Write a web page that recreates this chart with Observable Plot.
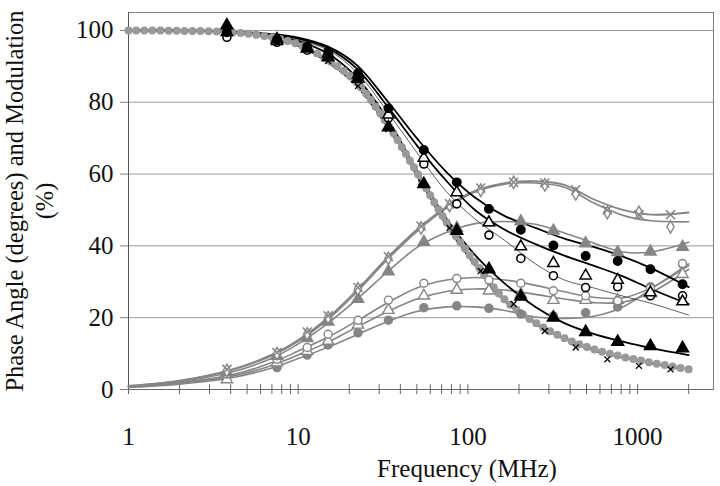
<!DOCTYPE html>
<html><head><meta charset="utf-8">
<script src="https://cdn.jsdelivr.net/npm/d3@7"></script>
<script src="https://cdn.jsdelivr.net/npm/@observablehq/plot@0.6"></script>
<style>body{margin:0;background:#fff}</style>
</head><body><div id="chart"></div>
<script>
// ---- Data ----
const xTickLabels = [1, 10, 100, 1000];
const xAllTicks = [1,2,3,4,5,6,7,8,9,10,20,30,40,50,60,70,80,90,100,200,300,400,500,600,700,800,900,1000,2000];
const yTicks = [0, 20, 40, 60, 80, 100];

// measured frequencies (MHz)
const measFreq = [3.8, 7.5, 11.3, 15, 22.5, 34, 55, 86, 133, 205, 319, 494, 763, 1190, 1840];
const xSerFreq = [3.8, 7.5, 11.3, 15, 22.5, 34, 53, 78, 119, 186, 284, 432, 663, 1018, 1563];

// modulation (%) measured, black markers
const modTriFilled    = [101.4, 97.5, 95, 92.5, 86.5, 73, 57.2, 44.2, 33.5, 25.9, 20, 16, 13.3, 12.1, 11.5];
const modCircleFilled = [99.5, 97.5, 95.5, 94, 88, 78.3, 66.7, 57.7, 50.3, 44.5, 40.1, 37.2, 35.8, 33.5, 29.3];
const modTriOpen      = [99.5, 97, 95, 93.5, 87.5, 76.5, 64.5, 54.9, 46.5, 39.8, 35.2, 31.7, 30.5, 27, 24.5];
const modCircleOpen   = [98.1, 96.7, 94.5, 93, 87, 75.6, 62.8, 51.7, 43, 36.5, 31.7, 28.4, 28.6, 26.1, 26.1];
const modX            = [99.7, 97.5, 94.5, 91.5, 84.5, 72.5, 57.7, 45, 33, 23.8, 16.3, 11.7, 8.4, 6.6, 5.6];

// phase angle (degrees) measured, gray markers
const phTriFilled    = [4.8, 9.3, 14.3, 18.9, 25.2, 32.9, 41.1, 45, 46.5, 46.8, 44.2, 40.7, 38.2, 38.4, 39.7];
const phCircleOpen   = [4.3, 8.4, 11.7, 15.4, 19.3, 24.9, 29.6, 30.9, 30.5, 29.6, 27.5, 26.1, 24.7, 28.2, 35.1];
const phTriOpen      = [2.8, 7.5, 10.7, 13.5, 18, 22.1, 26.1, 27.7, 27.5, 26.5, 24.9, 24.9, 24.9, 26.7, 32.1];
const phCircleFilled = [3.8, 6.1, 9.6, 12.4, 15.8, 19.3, 22.8, 23.3, 22.6, 21, 20.5, 21.4, 23, 28.6, 34.9];
const phX            = [5.6, 10.3, 16, 20.5, 28.4, 37, 45.5, 51.7, 56.1, 57.7, 57.5, 55.6, 50, 48.7, 48.7];
const phDiamond      = [5.3, 10, 15.5, 20, 28, 36.5, 45, 51.2, 55.5, 57.7, 57, 54.5, 49.3, 49.3, 45.3];

// fitted curves
const fitFreq = [1, 2, 4, 7, 10, 15, 22, 34, 50, 75, 110, 165, 250, 370, 550, 820, 1200, 2000];
const fitModTriFilled    = [100, 100, 99.5, 98.5, 97, 93.5, 87, 75, 61, 47.5, 37.5, 29.5, 23, 18.5, 15.5, 13.3, 11.5, 9.6];
const fitModCircleFilled = [100, 100, 99.7, 99, 98, 95.5, 90.5, 80, 70, 60.5, 53.5, 48.3, 45, 42, 39.7, 37, 33.8, 28.5];
const fitModTriOpen      = [100, 100, 99.6, 98.8, 97.7, 95, 89.5, 78.5, 68, 58, 50, 44.5, 40.5, 37.3, 34.5, 31.5, 28, 23.8];
const fitModCircleOpen   = [100, 100, 99.5, 98.5, 97.3, 94.5, 88.5, 77, 66, 55, 47.5, 41.5, 35, 30.5, 28.3, 26, 24, 20.7];
const fitModX            = [100, 99.9, 99.4, 97.8, 95.6, 91, 84.5, 72.5, 59.5, 45.5, 34.5, 24.5, 18.2, 14, 10.8, 8.8, 7.2, 5.4];
const fitGrayDots        = [100, 99.9, 99.5, 98.1, 96.1, 91.8, 85.6, 73.5, 60.5, 46.5, 35.5, 25, 18.6, 14.3, 11.2, 9.1, 7.5, 5.6];
const fitPhX             = [1, 2.5, 5.5, 9.7, 13.8, 20, 27.5, 37, 44.5, 51, 55.3, 57.5, 58, 57, 53, 50, 48.7, 49.3];
const fitPhDiamond       = [1, 2.4, 5.3, 9.4, 13.4, 19.5, 27, 36.5, 44, 50.5, 55, 57.2, 57.5, 56.3, 52, 48.5, 47, 46.7];
const fitPhTriFilled     = [0.8, 2.2, 4.8, 8.7, 12.7, 18.5, 25, 33, 39.5, 43.8, 46.2, 46.8, 46, 43.6, 40.8, 38.3, 38.3, 41];
const fitPhCircleOpen    = [0.8, 1.9, 4, 7.5, 10.7, 14.6, 19, 24.3, 28.3, 30.5, 31.2, 30.5, 29, 27.2, 25.7, 25.5, 28.3, 34.5];
const fitPhTriOpen       = [0.7, 1.7, 3.6, 6.7, 9.6, 13.2, 17.3, 21.8, 25.2, 27.3, 28, 27.7, 26.5, 25.2, 24.2, 24.3, 27, 33.5];
const fitPhCircleFilled  = [0.6, 1.5, 3.2, 6, 8.6, 11.8, 15.2, 19, 21.7, 23, 23, 22, 20.2, 19.8, 20.4, 23, 28, 35];

// ---- helpers ----
const rows = (f, v) => f.map((x, i) => ({f: x, v: v[i]}));
const serif = "'Liberation Serif', 'Times New Roman', serif";
const GRAY = "#858585";
const curve = "catmull-rom";
const fitLine = (vals, opts) => Plot.line(rows(fitFreq, vals), {x: "f", y: "v", curve, ...opts});
const dots = (freqs, vals, opts) => Plot.dot(rows(freqs, vals), {x: "f", y: "v", ...opts});

const chart = Plot.plot({
  width: 720, height: 486,
  marginLeft: 128, marginRight: 7, marginTop: 12, marginBottom: 97,
  style: {fontFamily: serif, background: "#fff", color: "#111"},
  x: {type: "log", domain: [1, 2800], axis: null},
  y: {domain: [0, 105], axis: null},
  marks: [
    Plot.gridY(yTicks.filter(d => d > 0), {stroke: "#9a9a9a", strokeOpacity: 1, strokeWidth: 1}),
    Plot.frame({stroke: "#808080"}),
    // y ticks (outward) and labels
    Plot.ruleY(yTicks, {y: d => d, x1: 1, x2: 1, insetLeft: -8, stroke: "#808080"}),
    Plot.text(yTicks, {y: d => d, x: 1, dx: -15, textAnchor: "end", lineAnchor: "middle", fontSize: 25, fill: "#111", text: d => String(d)}),
    // x ticks (crossing) and labels
    Plot.ruleX(xAllTicks, {x: d => d, y1: 0, y2: 0, insetTop: -5, insetBottom: -5, stroke: "#666"}),
    Plot.text(xTickLabels, {x: d => d, y: 0, dy: 47, textAnchor: "middle", lineAnchor: "middle", fontSize: 25, fill: "#111", text: d => String(d)}),
    Plot.ruleY([0], {stroke: "#666"}),
    Plot.ruleX([1], {stroke: "#555"}),

    // phase fitted lines (gray)
    fitLine(fitPhCircleFilled, {stroke: GRAY, strokeWidth: 1.6}),
    fitLine(fitPhTriOpen, {stroke: GRAY, strokeWidth: 1.6}),
    fitLine(fitPhCircleOpen, {stroke: GRAY, strokeWidth: 1.6}),
    fitLine(fitPhTriFilled, {stroke: GRAY, strokeWidth: 1.6}),
    fitLine(fitPhDiamond, {stroke: GRAY, strokeWidth: 1.6}),
    fitLine(fitPhX, {stroke: GRAY, strokeWidth: 1.8}),

    // modulation fitted lines (black)
    fitLine(fitModCircleOpen, {stroke: "#333", strokeWidth: 0.8}),
    fitLine(fitModTriOpen, {stroke: "#000", strokeWidth: 1.8}),
    fitLine(fitModCircleFilled, {stroke: "#000", strokeWidth: 1.8}),
    fitLine(fitModTriFilled, {stroke: "#000", strokeWidth: 1.8}),
    fitLine(fitModX, {stroke: "#111", strokeWidth: 1.2, strokeDasharray: "3,2"}),

    // dense gray dotted modulation curve
    fitLine(fitGrayDots, {stroke: "#999", strokeWidth: 8, strokeLinecap: "round", strokeDasharray: "0,8"}),

    // phase markers (gray)
    dots(measFreq, phCircleFilled, {symbol: "circle", r: 4, fill: GRAY, stroke: GRAY}),
    dots(measFreq, phTriOpen, {symbol: "triangle", r: 4.2, fill: "white", stroke: GRAY, strokeWidth: 1.4}),
    dots(measFreq, phCircleOpen, {symbol: "circle", r: 4, fill: "white", stroke: GRAY, strokeWidth: 1.4}),
    dots(measFreq, phTriFilled, {symbol: "triangle", r: 4.2, fill: GRAY, stroke: GRAY}),
    dots(xSerFreq, phDiamond, {symbol: "diamond", r: 3.8, fill: "white", stroke: GRAY, strokeWidth: 1.4}),
    dots(xSerFreq, phX, {symbol: "times", r: 4.2, stroke: GRAY, strokeWidth: 1.5}),

    // modulation markers (black)
    dots(xSerFreq, modX, {symbol: "times", r: 2.8, stroke: "#000", strokeWidth: 1.3}),
    dots(measFreq, modCircleOpen, {symbol: "circle", r: 4, fill: "white", stroke: "#000", strokeWidth: 1.6}),
    dots(measFreq, modTriOpen, {symbol: "triangle", r: 4.2, fill: "white", stroke: "#000", strokeWidth: 1.5}),
    dots(measFreq, modCircleFilled, {symbol: "circle", r: 4.2, fill: "#000", stroke: "#000"}),
    dots(measFreq, modTriFilled, {symbol: "triangle", r: 4.4, fill: "#000", stroke: "#000"}),

    // axis titles
    Plot.text(["Frequency (MHz)"], {frameAnchor: "bottom", dx: 46, dy: 79, fontSize: 25, fill: "#111", textAnchor: "middle", lineAnchor: "middle"}),
    Plot.text(["Phase Angle (degrees) and Modulation\n(%)"], {frameAnchor: "left", rotate: -90, dx: -100, fontSize: 24.5, lineHeight: 1.2, textAnchor: "middle", lineAnchor: "middle", fill: "#111"})
  ]
});
document.getElementById("chart").appendChild(chart);
</script>
</body></html>
